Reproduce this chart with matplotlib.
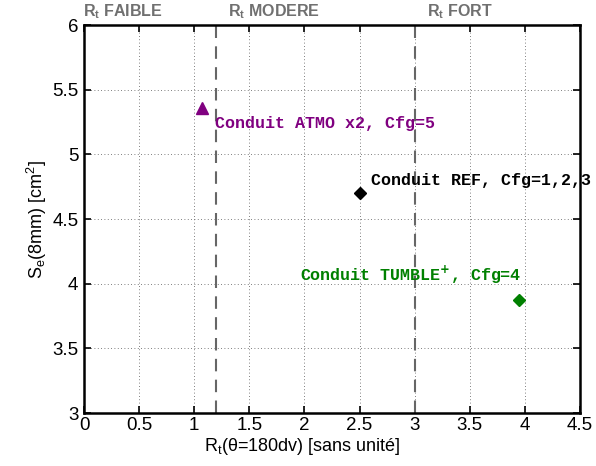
import matplotlib
matplotlib.use("Agg")
import matplotlib.pyplot as plt

# data
rt = [1.07, 2.50, 3.95]
se = [5.36, 4.70, 3.87]
markers = ["^", "D", "D"]
colors = ["#800080", "black", "#008000"]
labels = ["Conduit ATMO x2, Cfg=5", "Conduit REF, Cfg=1,2,3",
          r"Conduit TUMBLE$^{\mathbf{+}}$, Cfg=4"]
label_xy = [(1.19, 5.24), (2.60, 4.80), (1.96, 4.07)]

limits = [1.2, 3.0]
zones = [r"R$_\mathregular{t}$ FAIBLE", r"R$_\mathregular{t}$ MODERE", r"R$_\mathregular{t}$ FORT"]
zone_x = [-0.01, 1.31, 3.11]

plt.rcParams["font.family"] = ["Liberation Sans", "DejaVu Sans"]
plt.rcParams["mathtext.fontset"] = "custom"
plt.rcParams["mathtext.rm"] = "Liberation Sans"

fig = plt.figure(figsize=(5.96, 4.66), dpi=100)
ax = fig.add_axes([84 / 596, 1 - 413 / 466, 496 / 596, 388 / 466])

ax.grid(True, linestyle=(0, (1, 3)), color="#555555", linewidth=0.6)
for xv in limits:
    ax.axvline(xv, color="#666666", linestyle=(0, (6, 4)), linewidth=1.5)

sizes = [8, 6, 6]
for x, y, m, c, s in zip(rt, se, markers, colors, sizes):
    ax.plot(x, y, marker=m, color=c, markersize=s, linestyle="none")

for (tx, ty), txt, c in zip(label_xy, labels, colors):
    ax.text(tx, ty, txt, color=c, fontsize=12, family="Liberation Mono",
            fontweight="bold", va="center", ha="left")

for zx, zt in zip(zone_x, zones):
    ax.text(zx, 6.03, zt, color="#707070", fontsize=11.5,
            fontweight="bold", ha="left", va="bottom")

ax.set_xlim(0, 4.5)
ax.set_ylim(3, 6)
ax.set_xticks([0, 0.5, 1, 1.5, 2, 2.5, 3, 3.5, 4, 4.5])
ax.set_xticklabels(["0", "0.5", "1", "1.5", "2", "2.5", "3", "3.5", "4", "4.5"])
ax.set_yticks([3, 3.5, 4, 4.5, 5, 5.5, 6])
ax.set_yticklabels(["3", "3.5", "4", "4.5", "5", "5.5", "6"])
ax.tick_params(direction="in", top=True, right=True, length=5, width=1.2,
               labelsize=13.5)
ax.tick_params(axis="y", pad=4)
ax.tick_params(axis="x", pad=3)
for sp in ax.spines.values():
    sp.set_linewidth(1.8)

ax.set_xlabel(r"R$_\mathregular{t}$($\mathregular{\theta}$=180dv) [sans unité]", fontsize=13, labelpad=0)
ax.set_ylabel(r"S$_\mathregular{e}$(8mm) [cm$^\mathregular{2}$]", fontsize=13, labelpad=2)
ax.xaxis.set_label_coords(0.44, -0.06)

fig.savefig("out.png", dpi=100)
